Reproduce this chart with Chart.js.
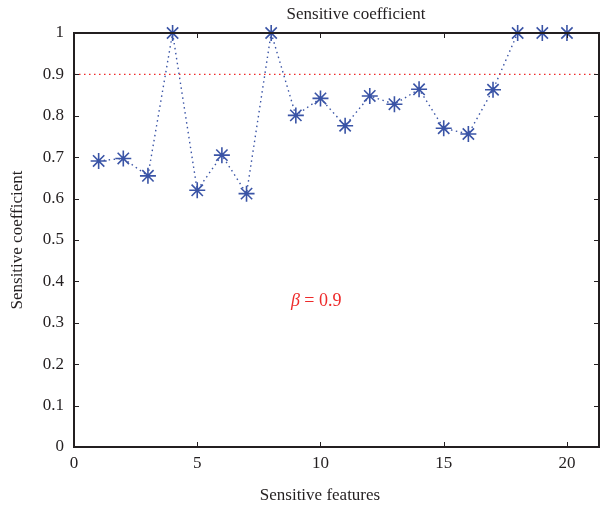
<!DOCTYPE html>
<html>
<head>
<meta charset="utf-8">
<script src="https://cdn.jsdelivr.net/npm/chart.js@4.4.0/dist/chart.umd.min.js"></script>
<style>
  html, body { margin: 0; padding: 0; background: #fff; }
  #wrap { width: 601px; height: 511px; position: relative; }
</style>
</head>
<body>
<div id="wrap"><canvas id="chart" width="601" height="511"></canvas></div>
<script>
// Sensitive features 1..20 and their coefficients
const features = [1, 2, 3, 4, 5, 6, 7, 8, 9, 10, 11, 12, 13, 14, 15, 16, 17, 18, 19, 20];
const coefficients = [0.691, 0.697, 0.655, 1.0, 0.620, 0.705, 0.612, 1.0, 0.801, 0.842,
                      0.776, 0.848, 0.828, 0.864, 0.770, 0.756, 0.863, 1.0, 1.0, 1.0];
const beta = 0.9;
const xTicks = [0, 5, 10, 15, 20];
const yTicks = [0, 0.1, 0.2, 0.3, 0.4, 0.5, 0.6, 0.7, 0.8, 0.9, 1];
const xRange = [0, 21.3];
const yRange = [0, 1];

const SERIF = '"Liberation Serif", "DejaVu Serif", serif';
const BLUE = '#3a54a6';
const RED = '#ee2a2a';
const AXIS = '#231f20';

// frame, inward ticks and text labels
const decorations = {
  id: 'decorations',
  afterDraw(chart) {
    const { ctx, chartArea: a, scales: { x, y } } = chart;
    ctx.save();
    ctx.strokeStyle = AXIS;
    ctx.lineWidth = 1;
    const tl = 5;
    xTicks.forEach(v => {
      const px = Math.round(x.getPixelForValue(v)) + 0.5;
      ctx.beginPath();
      ctx.moveTo(px, a.bottom); ctx.lineTo(px, a.bottom - tl);
      ctx.moveTo(px, a.top); ctx.lineTo(px, a.top + tl);
      ctx.stroke();
    });
    yTicks.forEach(v => {
      const py = Math.round(y.getPixelForValue(v)) + 0.5;
      ctx.beginPath();
      ctx.moveTo(a.left, py); ctx.lineTo(a.left + tl, py);
      ctx.moveTo(a.right, py); ctx.lineTo(a.right - tl, py);
      ctx.stroke();
    });
    ctx.lineWidth = 2;
    ctx.strokeRect(a.left, a.top, a.right - a.left, a.bottom - a.top);

    // title
    ctx.fillStyle = '#231f20';
    ctx.font = '17px ' + SERIF;
    ctx.textAlign = 'center';
    ctx.textBaseline = 'alphabetic';
    ctx.fillText('Sensitive coefficient', 356, 19);

    // x axis title
    ctx.fillText('Sensitive features', 320, 500);

    // y axis title
    ctx.save();
    ctx.translate(22, (a.top + a.bottom) / 2);
    ctx.rotate(-Math.PI / 2);
    ctx.fillText('Sensitive coefficient', 0, 0);
    ctx.restore();

    // beta annotation
    const bx = x.getPixelForValue(8.8);
    const by = y.getPixelForValue(0.34);
    ctx.fillStyle = RED;
    ctx.textAlign = 'left';
    ctx.font = 'italic 18px ' + SERIF;
    ctx.fillText('\u03B2', bx, by);
    const w = ctx.measureText('\u03B2').width;
    ctx.font = '18px ' + SERIF;
    ctx.fillText(' = 0.9', bx + w, by);
    ctx.restore();
  }
};

new Chart(document.getElementById('chart'), {
  type: 'scatter',
  data: {
    datasets: [
      {
        data: [{ x: xRange[0], y: beta }, { x: xRange[1], y: beta }],
        showLine: true,
        borderColor: RED,
        borderWidth: 1.3,
        borderDash: [1.5, 3.5],
        pointRadius: 0
      },
      {
        data: features.map((f, i) => ({ x: f, y: coefficients[i] })),
        showLine: true,
        borderColor: BLUE,
        borderWidth: 1.4,
        borderDash: [1.5, 3.5],
        pointStyle: 'star',
        pointRadius: 8,
        pointBorderWidth: 1.6,
        pointBorderColor: BLUE,
        pointBackgroundColor: BLUE
      }
    ]
  },
  options: {
    responsive: false,
    animation: false,
    clip: false,
    layout: { autoPadding: false, padding: { left: 0, right: 2, top: 33, bottom: 0 } },
    plugins: {
      legend: { display: false },
      tooltip: { enabled: false }
    },
    scales: {
      x: {
        type: 'linear',
        min: xRange[0],
        max: xRange[1],
        afterBuildTicks: s => { s.ticks = xTicks.map(v => ({ value: v })); },
        afterFit: s => { s.height = 64; s.paddingLeft = 0; s.paddingRight = 0; },
        grid: { display: false, drawTicks: false },
        border: { display: false },
        ticks: {
          padding: 6,
          color: AXIS,
          font: { family: SERIF, size: 17 },
          maxRotation: 0,
          callback: v => String(v)
        }
      },
      y: {
        type: 'linear',
        min: yRange[0],
        max: yRange[1],
        afterBuildTicks: s => { s.ticks = yTicks.map(v => ({ value: v })); },
        afterFit: s => { s.width = 74; s.paddingTop = 0; s.paddingBottom = 0; },
        grid: { display: false, drawTicks: false },
        border: { display: false },
        ticks: {
          padding: 10,
          color: AXIS,
          font: { family: SERIF, size: 17 },
          callback: v => String(Math.round(v * 10) / 10)
        }
      }
    }
  },
  plugins: [decorations]
});
</script>
</body>
</html>
